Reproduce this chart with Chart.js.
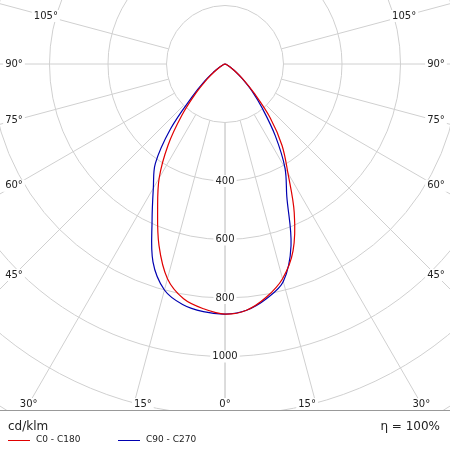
<!DOCTYPE html>
<html><head><meta charset="utf-8">
<script src="https://cdn.jsdelivr.net/npm/chart.js@4/dist/chart.umd.min.js"></script>
<style>html,body{margin:0;padding:0;background:#fff}</style>
</head><body>
<canvas id="c" width="450" height="450"></canvas>
<script>
const angles = [0,5,10,15,20,25,30,35,40,45,50,55,60,70,80,90];
const redLeft  = [855,840,815,760,660,545,450,340,230,140,80,40,20,5,0,0];
const redRight = [855,845,810,760,680,560,430,340,240,140,80,40,20,5,0,0];
const blueLeft = [855,850,835,800,720,590,490,415,290,160,90,45,22,5,0,0];
const blueRight= [855,845,815,770,660,500,410,300,200,130,75,40,20,5,0,0];
const ringValues = [200,400,600,800,1000,1200,1400,1600,1800];
const ringLabels = ['400','600','800','1000'];
const spokeAngles = [0,15,30,45,60,75,90,105];
const seriesNames = ['C0 - C180','C90 - C270'];
const unitLabel = 'cd/klm';
const effLabel = 'η = 100%';

function toPoints(left,right){
  const pts=[];
  for(let i=angles.length-1;i>=0;i--){const a=angles[i]*Math.PI/180;pts.push({x:-left[i]*Math.sin(a),y:-left[i]*Math.cos(a)});}
  for(let i=1;i<angles.length;i++){const a=angles[i]*Math.PI/180;pts.push({x:right[i]*Math.sin(a),y:-right[i]*Math.cos(a)});}
  return pts;
}
const K=0.2925;
const FONT='"DejaVu Sans", sans-serif';
const gridPlugin={
  id:'polarGrid',
  beforeDatasetsDraw(chart){
    const {ctx,chartArea:ca,scales:{x,y}}=chart;
    const cx=x.getPixelForValue(0), cy=y.getPixelForValue(0);
    const pr=v=>x.getPixelForValue(v)-cx;
    ctx.save();
    ctx.beginPath();ctx.rect(ca.left,ca.top,ca.right-ca.left,ca.bottom-ca.top);ctx.clip();
    ctx.strokeStyle='#d0d0d0';ctx.lineWidth=1;
    ringValues.forEach(v=>{ctx.beginPath();ctx.arc(cx,cy,pr(v),0,Math.PI*2);ctx.stroke();});
    const r0=pr(200);
    spokeAngles.forEach(d=>{const a=d*Math.PI/180;
      [1,-1].forEach(s=>{ctx.beginPath();ctx.moveTo(cx+s*r0*Math.sin(a),cy+r0*Math.cos(a));
        ctx.lineTo(cx+s*2000*Math.sin(a),cy+2000*Math.cos(a));ctx.stroke();});});
    ctx.restore();
  },
  afterDatasetsDraw(chart){
    const {ctx,chartArea:ca,scales:{x,y}}=chart;
    const cx=x.getPixelForValue(0), cy=y.getPixelForValue(0);
    ctx.save();
    ctx.font='10px '+FONT;ctx.textAlign='center';ctx.textBaseline='middle';
    const lab=(t,px,py)=>{const w=ctx.measureText(t).width+4;ctx.fillStyle='#fff';ctx.fillRect(px-w/2,py-6,w,12);ctx.fillStyle='#222';ctx.fillText(t,px,py);};
    ringLabels.forEach(t=>lab(t,cx,y.getPixelForValue(-Number(t))));
    const L=ca.left+14,R=ca.right-14,B=ca.bottom-6,T=ca.top+16;
    [0,15,30,45,60,75,90,105].forEach(d=>{
      const a=d*Math.PI/180;const sx=Math.sin(a),sy=Math.cos(a);
      let t=1e9;
      if(sx>1e-6)t=Math.min(t,(R-cx)/sx);
      if(sy>1e-6)t=Math.min(t,(B-cy)/sy);
      if(sy<-1e-6)t=Math.min(t,(T-cy)/sy);
      let px=cx+t*sx;const py=cy+t*sy;
      if(d===15)px-=9;
      if(d===0){lab('0°',cx,py);return;}
      lab(d+'°',px,py);lab(d+'°',2*cx-px,py);
    });
    ctx.strokeStyle='#999';ctx.lineWidth=1;
    ctx.beginPath();ctx.moveTo(0,ca.bottom+0.5);ctx.lineTo(450,ca.bottom+0.5);ctx.stroke();
    ctx.textAlign='left';ctx.fillStyle='#222';ctx.font='12px '+FONT;
    ctx.fillText(unitLabel,8,ca.bottom+17);
    ctx.textAlign='right';ctx.fillText(effLabel,440,ca.bottom+17);
    ctx.font='9px '+FONT;ctx.textAlign='left';
    const cols=['#e00000','#0000b0'];const xs=[8,118];
    seriesNames.forEach((n,i)=>{ctx.strokeStyle=cols[i];ctx.beginPath();ctx.moveTo(xs[i],ca.bottom+30.5);ctx.lineTo(xs[i]+22,ca.bottom+30.5);ctx.stroke();
      ctx.fillStyle='#222';ctx.fillText(n,xs[i]+28,ca.bottom+30);});
    ctx.restore();
  }
};
new Chart(document.getElementById('c'),{
  type:'scatter',
  data:{datasets:[
    {label:seriesNames[0],data:toPoints(redLeft,redRight),showLine:true,borderColor:'#e00000',borderWidth:1.2,pointRadius:0,tension:0.35,fill:false},
    {label:seriesNames[1],data:toPoints(blueLeft,blueRight),showLine:true,borderColor:'#0000b0',borderWidth:1.2,pointRadius:0,tension:0.35,fill:false}
  ]},
  options:{responsive:false,animation:false,devicePixelRatio:1,
    layout:{padding:{left:0,right:0,top:0,bottom:40}},
    plugins:{legend:{display:false},tooltip:{enabled:false}},
    scales:{x:{display:false,min:-225/K,max:225/K},y:{display:false,min:-(410-64)/K,max:64/K}}
  },
  plugins:[gridPlugin]
});
</script>
</body></html>
